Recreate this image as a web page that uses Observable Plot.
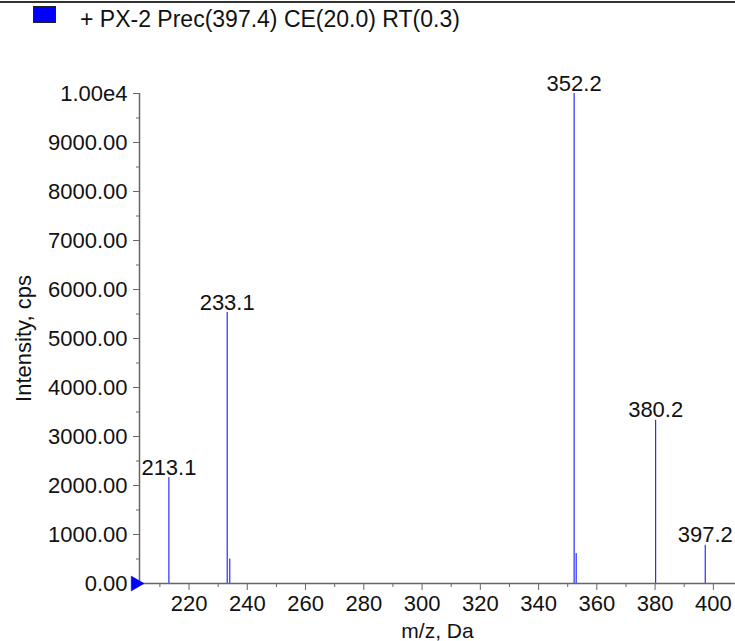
<!DOCTYPE html>
<html>
<head>
<meta charset="utf-8">
<script src="https://cdn.jsdelivr.net/npm/d3@7"></script>
<script src="https://cdn.jsdelivr.net/npm/@observablehq/plot@0.6"></script>
<style>
  html, body { margin: 0; padding: 0; background: #fff; }
  body { width: 735px; height: 641px; overflow: hidden; font-family: "Liberation Sans", Arial, sans-serif; }
  #top { position: relative; height: 43px; border-top: 2px solid #333; box-sizing: border-box; margin-top: 1px; }
  #sq { position: absolute; left: 33px; top: 3px; width: 21px; height: 15px; background: #0000ff; border: 1px solid #222; }
  #lt { position: absolute; left: 80px; top: 3px; font-size: 23px; color: #111; white-space: nowrap; }
  svg { overflow: visible; }
</style>
</head>
<body>
<div id="top"><div id="sq"></div><div id="lt">+ PX-2 Prec(397.4) CE(20.0) RT(0.3)</div></div>
<div id="chart"></div>
<script>
// Peak data (m/z, intensity in cps)
const peakMz = [213.1, 233.1, 234.0, 352.2, 352.9, 380.2, 397.2];
const peakIntensity = [2160, 5530, 500, 10000, 610, 3330, 780];
const peakLabel = ["213.1", "233.1", "", "352.2", "", "380.2", "397.2"];

const xMajorTicks = [220, 240, 260, 280, 300, 320, 340, 360, 380, 400];
const xMinorTicks = [210, 230, 250, 270, 290, 310, 330, 350, 370, 390];
const yMajorTicks = [0, 1000, 2000, 3000, 4000, 5000, 6000, 7000, 8000, 9000, 10000];
const yMinorTicks = [500, 1500, 2500, 3500, 4500, 5500, 6500, 7500, 8500, 9500];

const xDomain = [203, 407.6];
const yDomain = [0, 10000];

const peaks = peakMz.map((mz, i) => ({mz, intensity: peakIntensity[i], label: peakLabel[i]}));
const labeled = peaks.filter(d => d.label !== "");

const axisColor = "#666";
const fontSize = 22;

const chart = Plot.plot({
  width: 735,
  height: 597,
  marginTop: 49,
  marginBottom: 58,
  marginLeft: 139,
  marginRight: 0,
  x: {domain: xDomain},
  y: {domain: yDomain},
  style: {fontFamily: "Liberation Sans, Arial, sans-serif", fontSize: fontSize + "px", color: "#111", background: "#fff", overflow: "visible"},
  marks: [
    Plot.ruleX(peaks, {x: "mz", y1: 0, y2: "intensity", stroke: "#0000ff", strokeWidth: 1}),
    Plot.axisX({ticks: xMajorTicks, tickSize: 7, tickPadding: 5, stroke: axisColor, fill: "#111", label: null, tickFormat: d => String(d)}),
    Plot.axisX({ticks: xMinorTicks, tickSize: 4, text: null, stroke: axisColor, label: null}),
    Plot.axisY({ticks: yMajorTicks, tickSize: 6, tickPadding: 6, stroke: axisColor, fill: "#111", label: null,
      tickFormat: d => d === 10000 ? "1.00e4" : d.toFixed(2)}),
    Plot.axisY({ticks: yMinorTicks, tickSize: 3, text: null, stroke: axisColor, label: null}),
    Plot.ruleY([0], {stroke: axisColor, strokeWidth: 1.5}),
    Plot.ruleX([xDomain[0]], {stroke: axisColor, strokeWidth: 1.5}),
    Plot.text(labeled, {x: "mz", y: "intensity", text: "label", lineAnchor: "bottom", dy: -3, fill: "#111", fontSize}),
    Plot.dot([{x: xDomain[0], y: 0}], {x: "x", y: "y", symbol: "triangle", rotate: 90, r: 5.5, dx: -4, fill: "#0000ff", stroke: "#0000aa", strokeWidth: 0.5}),
    Plot.text(["Intensity, cps"], {frameAnchor: "left", dx: -116, rotate: -90, lineAnchor: "middle", textAnchor: "middle", fill: "#111", fontSize}),
    Plot.text(["m/z, Da"], {frameAnchor: "bottom", dy: 54, lineAnchor: "bottom", textAnchor: "middle", fill: "#111", fontSize: 21})
  ]
});
document.getElementById("chart").appendChild(chart);
</script>
</body>
</html>
